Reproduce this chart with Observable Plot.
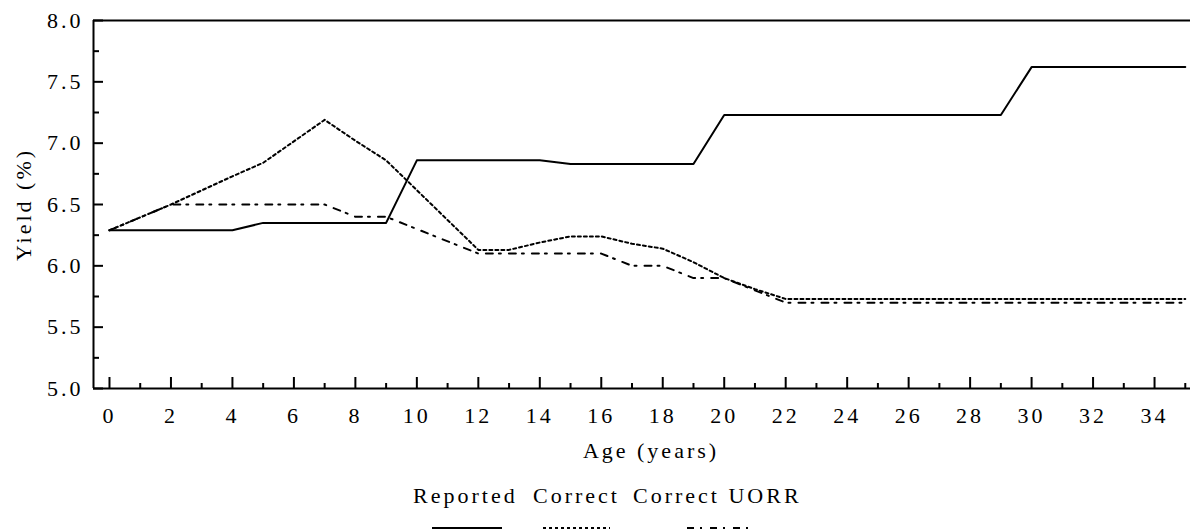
<!DOCTYPE html>
<html>
<head>
<meta charset="utf-8">
<script src="https://cdn.jsdelivr.net/npm/d3@7"></script>
<script src="https://cdn.jsdelivr.net/npm/@observablehq/plot@0.6"></script>
<style>
  html, body { margin: 0; padding: 0; background: #fff; }
  body { font-family: "Liberation Serif", "Times New Roman", serif; color: #000; width: 1190px; overflow: hidden; }
  #chart svg { display: block; }
  #chart svg, #chart svg text { font-family: "Liberation Serif", "Times New Roman", serif !important; }
  #legend { position: relative; width: 1190px; height: 69px; font-size: 22px; letter-spacing: 3px; }
  #legend .lab { position: absolute; top: 23px; line-height: 26px; white-space: nowrap; }
  #legend svg { position: absolute; left: 0; top: 0; }
</style>
</head>
<body>
<div id="chart"></div>
<div id="legend"></div>
<script>
// ---- data ----
const seriesNames = ["Reported", "Correct", "Correct UORR"];
const xTitle = "Age (years)";
const yTitle = "Yield (%)";

const reportedAge   = [0, 4, 5, 9, 10, 14, 15, 19, 20, 29, 30, 35];
const reportedYield = [6.29, 6.29, 6.35, 6.35, 6.86, 6.86, 6.83, 6.83, 7.23, 7.23, 7.62, 7.62];

const correctAge   = [0, 2, 4, 5, 7, 8, 9, 12, 13, 14, 15, 16, 17, 18, 19, 20, 21, 22, 35];
const correctYield = [6.29, 6.50, 6.73, 6.84, 7.19, 7.02, 6.86, 6.13, 6.13, 6.19, 6.24, 6.24, 6.18, 6.14, 6.03, 5.90, 5.81, 5.73, 5.73];

const uorrAge   = [0, 2, 7, 8, 9, 12, 16, 17, 18, 19, 20, 22, 35];
const uorrYield = [6.29, 6.50, 6.50, 6.40, 6.40, 6.10, 6.10, 6.00, 6.00, 5.90, 5.90, 5.70, 5.70];

const xMajorTicks = [0, 2, 4, 6, 8, 10, 12, 14, 16, 18, 20, 22, 24, 26, 28, 30, 32, 34];
const xMinorTicks = [1, 3, 5, 7, 9, 11, 13, 15, 17, 19, 21, 23, 25, 27, 29, 31, 33, 35];
const yMajorTicks = [5.0, 5.5, 6.0, 6.5, 7.0, 7.5, 8.0];
const yMinorTicks = [5.25, 5.75, 6.25, 6.75, 7.25, 7.75];

const xDomain = [-0.52, 35.17];
const yDomain = [5, 8];

// ---- build tables ----
const toRows = (ages, ys, name) => ages.map((a, i) => ({age: a, yield: ys[i], series: name}));
const reported = toRows(reportedAge, reportedYield, seriesNames[0]);
const correct  = toRows(correctAge, correctYield, seriesNames[1]);
const uorr     = toRows(uorrAge, uorrYield, seriesNames[2]);

const styles = [
  {stroke: "#000", strokeWidth: 2, strokeDasharray: null},
  {stroke: "#000", strokeWidth: 2, strokeDasharray: "3,3"},
  {stroke: "#000", strokeWidth: 2, strokeDasharray: "7,6,2,8"}
];

const chart = Plot.plot({
  width: 1190,
  height: 460,
  marginTop: 20,
  marginLeft: 93,
  marginRight: 0,
  marginBottom: 72,
  style: {fontFamily: "'Liberation Serif', 'Times New Roman', serif", fontSize: "22px", letterSpacing: "3px", color: "#000", background: "#fff", overflow: "visible"},
  x: {domain: xDomain, labelArrow: "none"},
  y: {domain: yDomain, labelArrow: "none"},
  marks: [
    // frame lines
    Plot.ruleY(yDomain, {stroke: "#000", strokeWidth: 2}),
    Plot.ruleX([xDomain[0]], {stroke: "#000", strokeWidth: 2}),
    // axes
    Plot.axisY(yMajorTicks, {tickSize: -10, tickPadding: 20, tickFormat: d => d.toFixed(1), strokeWidth: 2, fontSize: 22,
      label: yTitle, labelAnchor: "center", labelOffset: 78, labelArrow: "none"}),
    Plot.axisY(yMinorTicks, {tickSize: -6, fill: "none", strokeWidth: 2, label: null}),
    Plot.axisX(xMajorTicks, {tickSize: -11, tickPadding: 30, tickFormat: d => String(d), strokeWidth: 2, fontSize: 22, label: null}),
    Plot.axisX(xMinorTicks, {tickSize: -5, fill: "none", strokeWidth: 2, label: null}),
    Plot.text([xTitle], {text: d => d, frameAnchor: "bottom", dx: 9, dy: 62, lineAnchor: "middle", fill: "#000", fontSize: 22}),
    // series
    Plot.line(reported, {x: "age", y: "yield", ...styles[0]}),
    Plot.line(correct,  {x: "age", y: "yield", ...styles[1]}),
    Plot.line(uorr,     {x: "age", y: "yield", ...styles[2]})
  ]
});
document.getElementById("chart").appendChild(chart);

// ---- legend ----
const legend = document.getElementById("legend");
const labelLefts = [413, 533, 633];
const sampleSpans = [[432, 502], [543, 610], [687, 748]];
const svgNS = "http://www.w3.org/2000/svg";
const lsvg = document.createElementNS(svgNS, "svg");
lsvg.setAttribute("width", 1190);
lsvg.setAttribute("height", 69);
seriesNames.forEach((name, i) => {
  const s = document.createElement("span");
  s.className = "lab";
  s.style.left = labelLefts[i] + "px";
  s.textContent = name;
  legend.appendChild(s);
  const ln = document.createElementNS(svgNS, "line");
  ln.setAttribute("x1", sampleSpans[i][0]);
  ln.setAttribute("x2", sampleSpans[i][1]);
  ln.setAttribute("y1", 68);
  ln.setAttribute("y2", 68);
  ln.setAttribute("stroke", styles[i].stroke);
  ln.setAttribute("stroke-width", 2);
  if (styles[i].strokeDasharray) ln.setAttribute("stroke-dasharray", styles[i].strokeDasharray);
  lsvg.appendChild(ln);
});
legend.appendChild(lsvg);
</script>
</body>
</html>
